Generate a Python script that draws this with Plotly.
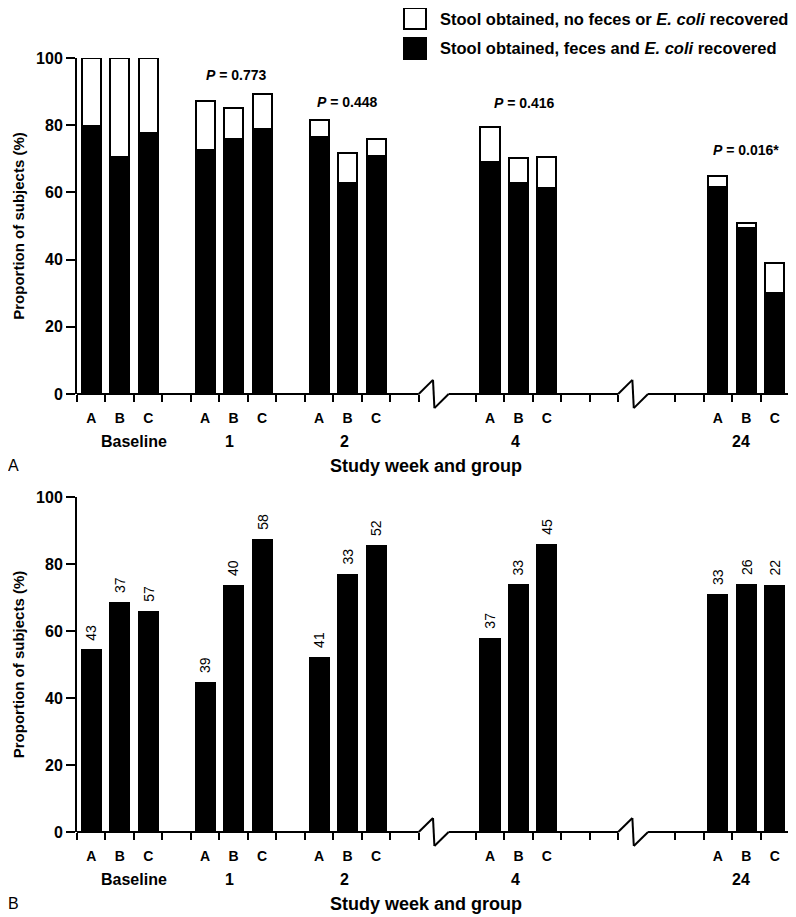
import plotly.graph_objects as go
from plotly.subplots import make_subplots

weeks = ["Baseline", "1", "2", "4", "24"]
groups = ["A", "B", "C"]

# panel A, bars in order week x group (A, B, C)
stool_obtained = [100, 100, 100, 87.2, 85.0, 89.3, 81.5, 71.7, 76.0,
                  79.4, 70.1, 70.4, 64.9, 50.9, 39.1]
ecoli_recovered = [79.8, 70.4, 77.6, 72.6, 75.9, 79.0, 76.4, 62.7, 70.7,
                   69.0, 62.7, 61.3, 61.7, 49.5, 30.0]
p_values = ["0.773", "0.448", "0.416", "0.016*"]  # weeks 1, 2, 4, 24

# panel B
panel_b_pct = [54.2, 68.3, 65.8, 44.5, 73.3, 87.3, 52.0, 76.7, 85.4,
               57.7, 73.7, 85.7, 70.7, 73.8, 73.5]
panel_b_n = [43, 37, 57, 39, 40, 58, 41, 33, 52, 37, 33, 45, 33, 26, 22]

legend_names = ["Stool obtained, no feces or <i>E. coli</i> recovered",
                "Stool obtained, feces and <i>E. coli</i> recovered"]

# broken x axis: one unit slot per bar, gaps between weeks
week_start = [0, 4, 8, 14, 22]
breaks = [12, 19]
n_slots = 25
bar_x = [s + i for s in week_start for i in range(len(groups))]
week_label_x = [1.5, 4.85, 8.9, 14.9, 22.8]
p_pos = [(5.1, 94.9), (9.0, 87.0), (15.2, 86.5), (23.0, 72.6)]

FONT = "Liberation Sans, Arial, sans-serif"
BW = 0.67
W, H = 788, 909          # page body adds 8px margin
ML, MR, MT, MB = 69, 7, 0, 85
PW, PH = W - ML - MR, H - MT - MB
A_TOP, A_BOT, B_TOP, B_BOT = 50, 386, 489, 824   # figure pixels


def px(x):  # figure pixel -> x domain
    return (x - ML) / PW


def py(y):  # figure pixel -> paper y
    return (H - MB - y) / PH


def pa(y):  # figure pixel -> panel A y domain
    return (A_BOT - y) / (A_BOT - A_TOP)


def pb(y):  # figure pixel -> panel B y domain
    return (B_BOT - y) / (B_BOT - B_TOP)


fig = make_subplots(rows=2, cols=1, vertical_spacing=0.1)

white_part = [t - r for t, r in zip(stool_obtained, ecoli_recovered)]
fig.add_trace(go.Bar(x=bar_x, y=ecoli_recovered, width=BW, showlegend=False,
                     marker=dict(color="black", line=dict(color="black", width=2))),
              row=1, col=1)
fig.add_trace(go.Bar(x=bar_x, y=white_part, width=BW, showlegend=False,
                     marker=dict(color="white", line=dict(color="black", width=2))),
              row=1, col=1)
fig.add_trace(go.Bar(x=bar_x, y=panel_b_pct, width=BW, showlegend=False,
                     marker=dict(color="black", line=dict(color="black", width=2))),
              row=2, col=1)

bounds = [k - 0.5 for k in range(n_slots + 1) if (k - 0.5) not in [b + 0.5 for b in breaks]]
tick_text = [g for _ in weeks for g in groups]

xax = dict(range=[-0.5, n_slots - 0.5], showline=False, showgrid=False, zeroline=False,
           tickmode="array", tickvals=bar_x, ticktext=tick_text, ticks="",
           ticklabelstandoff=14,
           tickfont=dict(family=FONT, size=14, color="black", weight="bold"),
           minor=dict(tickmode="array", tickvals=bounds, ticks="outside",
                      ticklen=7, tickwidth=2, tickcolor="black"))
yax = dict(range=[0, 100], tickvals=[0, 20, 40, 60, 80, 100], showgrid=False,
           zeroline=False, showline=True, linewidth=2, linecolor="black",
           ticks="outside", ticklen=9, tickwidth=2, tickcolor="black",
           tickfont=dict(family=FONT, size=16, color="black", weight="bold"),
           title=dict(text="Proportion of subjects (%)", standoff=8,
                      font=dict(family=FONT, size=15, color="black", weight="bold")))

fig.update_layout(
    width=W, height=H,
    margin=dict(l=ML, r=MR, t=MT, b=MB, autoexpand=False),
    paper_bgcolor="white", plot_bgcolor="white",
    barmode="stack", bargap=0, showlegend=False,
    font=dict(family=FONT, color="black"),
    xaxis=xax, xaxis2=xax,
    yaxis=dict(yax, domain=[py(A_BOT), py(A_TOP)]),
    yaxis2=dict(yax, domain=[py(B_BOT), py(B_TOP)]),
)

# legend key
for (fill, top), name in zip([("white", 0), ("black", 30)], legend_names):
    fig.add_shape(type="rect", xref="x domain", yref="y domain",
                  x0=px(396), x1=px(418), y0=pa(top), y1=pa(top + 21),
                  fillcolor=fill, line=dict(color="black", width=2))
    fig.add_annotation(x=px(430), y=pa(top + 10.5), xref="x domain", yref="y domain",
                       text=name, showarrow=False, xanchor="left", yanchor="middle",
                       font=dict(family=FONT, size=16.5, color="black", weight="bold"))

# x axis baseline with break marks
for xr, yr in [("x", "y domain"), ("x2", "y2 domain")]:
    segs = [-0.5] + [v for b in breaks for v in (b - 0.5, b + 0.55)] + [n_slots - 0.5]
    for i in range(0, len(segs), 2):
        fig.add_shape(type="line", xref=xr, yref=yr, x0=segs[i], x1=segs[i + 1],
                      y0=0, y1=0, line=dict(color="black", width=2))
    for b in breaks:
        pts = [(b - 0.5, 0), (b, 0.042), (b + 0.05, -0.042), (b + 0.55, 0)]
        for (xa, ya), (xb, yb) in zip(pts[:-1], pts[1:]):
            fig.add_shape(type="line", xref=xr, yref=yr, x0=xa, x1=xb, y0=ya, y1=yb,
                          line=dict(color="black", width=2))

# week labels, axis titles and panel letters
for xr, yr, to_dom, base in [("x", "y domain", pa, A_BOT), ("x2", "y2 domain", pb, B_BOT)]:
    for w, wx in zip(weeks, week_label_x):
        fig.add_annotation(x=wx, y=to_dom(base + 47), xref=xr, yref=yr, text=w,
                           showarrow=False, xanchor="center", yanchor="middle",
                           font=dict(family=FONT, size=16, color="black", weight="bold"))
    fig.add_annotation(x=0.49, y=to_dom(base + 72), xref=xr + " domain", yref=yr,
                       text="Study week and group", showarrow=False,
                       xanchor="center", yanchor="middle",
                       font=dict(family=FONT, size=18, color="black", weight="bold"))
    fig.add_annotation(x=px(5), y=to_dom(base + 71), xref=xr + " domain", yref=yr,
                       text="A" if xr == "x" else "B", showarrow=False,
                       xanchor="center", yanchor="middle",
                       font=dict(family=FONT, size=16, color="black"))

# P values (panel A)
for p, (pxv, pyv) in zip(p_values, p_pos):
    fig.add_annotation(x=pxv, y=pyv, xref="x", yref="y", text=f"<i>P</i> = {p}",
                       showarrow=False, xanchor="center", yanchor="middle",
                       font=dict(family=FONT, size=14, color="black", weight="bold"))

# n above bars (panel B)
for bx, v, n in zip(bar_x, panel_b_pct, panel_b_n):
    fig.add_annotation(x=bx, y=v, xref="x2", yref="y2", text=str(n), textangle=-90,
                       showarrow=False, yanchor="bottom", yshift=8,
                       font=dict(family=FONT, size=14, color="black"))

fig.write_html("out.html")
